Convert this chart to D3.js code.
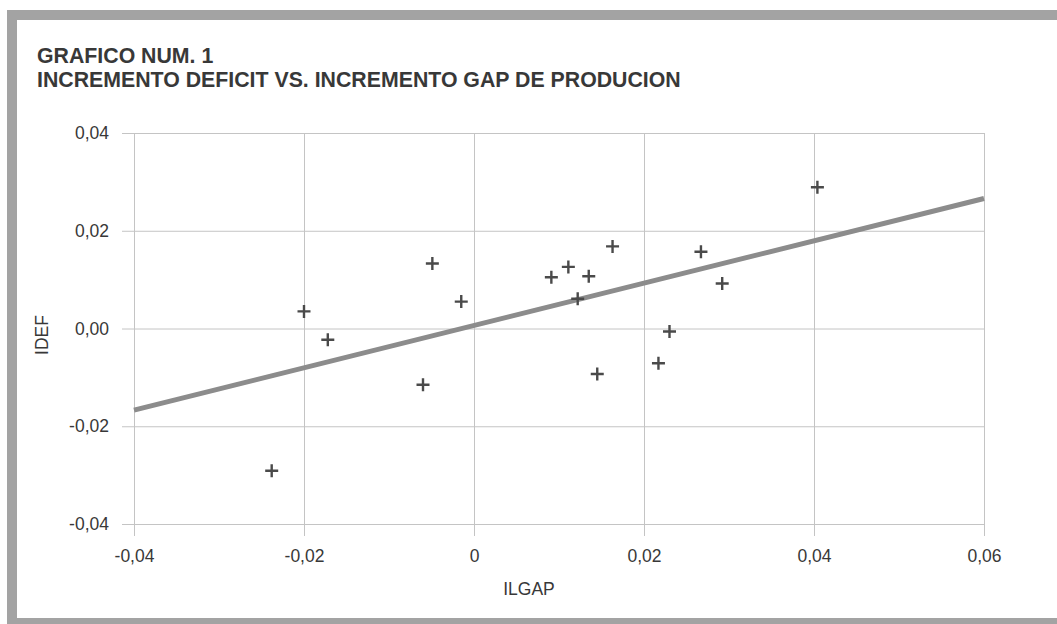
<!DOCTYPE html>
<html>
<head>
<meta charset="utf-8">
<script src="https://cdn.jsdelivr.net/npm/d3@7"></script>
<style>
  body { margin: 0; background: #fff; }
  svg { display: block; font-family: "Liberation Sans", Arial, sans-serif; }
</style>
</head>
<body>
<svg id="chart" width="1057" height="624"></svg>
<script>
// values
const ilgap = [-0.0238, -0.0200, -0.0172, -0.0060, -0.0049, -0.0015, 0.0091, 0.0111,
  0.0122, 0.0135, 0.0145, 0.0163, 0.0217, 0.0230, 0.0267, 0.0292, 0.0404];
const idef = [-0.0291, 0.0035, -0.0023, -0.0115, 0.0133, 0.0055, 0.0105, 0.0126,
  0.0061, 0.0107, -0.0093, 0.0168, -0.0071, -0.0006, 0.0157, 0.0092, 0.0289];
const trendX = [-0.04, 0.06];
const trendY = [-0.0167, 0.0266];
const xTicks = [-0.04, -0.02, 0, 0.02, 0.04, 0.06];
const xTickLabels = ['-0,04', '-0,02', '0', '0,02', '0,04', '0,06'];
const yTicks = [0.04, 0.02, 0, -0.02, -0.04];
const yTickLabels = ['0,04', '0,02', '0,00', '-0,02', '-0,04'];

const svg = d3.select('#chart');
const margin = {top: 133, right: 73, bottom: 100, left: 134};
const width = 1057, height = 624;
const ink = '#383838';

// scanned frame
svg.append('rect')
  .attr('x', 12).attr('y', 15)
  .attr('width', 1080).attr('height', 608)
  .attr('fill', 'none')
  .attr('stroke', '#a3a3a3')
  .attr('stroke-width', 10);

const x = d3.scaleLinear()
  .domain([-0.04, 0.06])
  .range([margin.left, width - margin.right]);

const y = d3.scaleLinear()
  .domain([-0.04, 0.04])
  .range([height - margin.bottom, margin.top]);

const y0 = y.range()[0];

const xAxis = g => g
  .attr('transform', `translate(0,${y0 + 12})`)
  .call(d3.axisBottom(x).tickValues(xTicks)
    .tickFormat((d, i) => xTickLabels[i])
    .tickSize(-(y0 + 12 - margin.top)).tickPadding(14))
  .call(g => g.select('.domain').remove())
  .call(g => g.selectAll('.tick line').attr('stroke', '#c4c4c4'))
  .call(g => g.selectAll('.tick text')
    .attr('fill', ink).attr('font-size', 17.5));

const yAxis = g => g
  .attr('transform', `translate(${margin.left - 12},0)`)
  .call(d3.axisLeft(y).tickValues(yTicks)
    .tickFormat((d, i) => yTickLabels[i])
    .tickSize(-(width - margin.right - margin.left + 12)).tickPadding(13))
  .call(g => g.select('.domain').remove())
  .call(g => g.selectAll('.tick line').attr('stroke', '#c4c4c4'))
  .call(g => g.selectAll('.tick text')
    .attr('fill', ink).attr('font-size', 17.5));

svg.append('g').call(xAxis);
svg.append('g').call(yAxis);

// trend line
svg.append('path')
  .datum(trendX.map((d, i) => [d, trendY[i]]))
  .attr('fill', 'none')
  .attr('stroke', '#8c8c8c')
  .attr('stroke-width', 5)
  .attr('d', d3.line().x(d => x(d[0])).y(d => y(d[1])));

// plus markers
svg.append('g')
  .selectAll('path')
  .data(ilgap.map((d, i) => [d, idef[i]]))
  .join('path')
    .attr('transform', d => `translate(${x(d[0])},${y(d[1])})`)
    .attr('d', 'M-6.5,0H6.5M0,-6.5V6.5')
    .attr('stroke', '#4a4a4a')
    .attr('stroke-width', 2.4)
    .attr('fill', 'none');

// titles
svg.append('text')
  .attr('x', 37).attr('y', 63)
  .attr('fill', ink).attr('font-size', 21.3).attr('font-weight', 'bold')
  .text('GRAFICO NUM. 1');
svg.append('text')
  .attr('x', 37).attr('y', 87)
  .attr('fill', ink).attr('font-size', 21.3).attr('font-weight', 'bold')
  .text('INCREMENTO DEFICIT VS. INCREMENTO GAP DE PRODUCION');

svg.append('text')
  .attr('x', 529).attr('y', 595)
  .attr('text-anchor', 'middle')
  .attr('fill', ink).attr('font-size', 17.5)
  .text('ILGAP');

svg.append('text')
  .attr('transform', 'translate(48,335) rotate(-90)')
  .attr('text-anchor', 'middle')
  .attr('fill', ink).attr('font-size', 17.5)
  .text('IDEF');
</script>
</body>
</html>
